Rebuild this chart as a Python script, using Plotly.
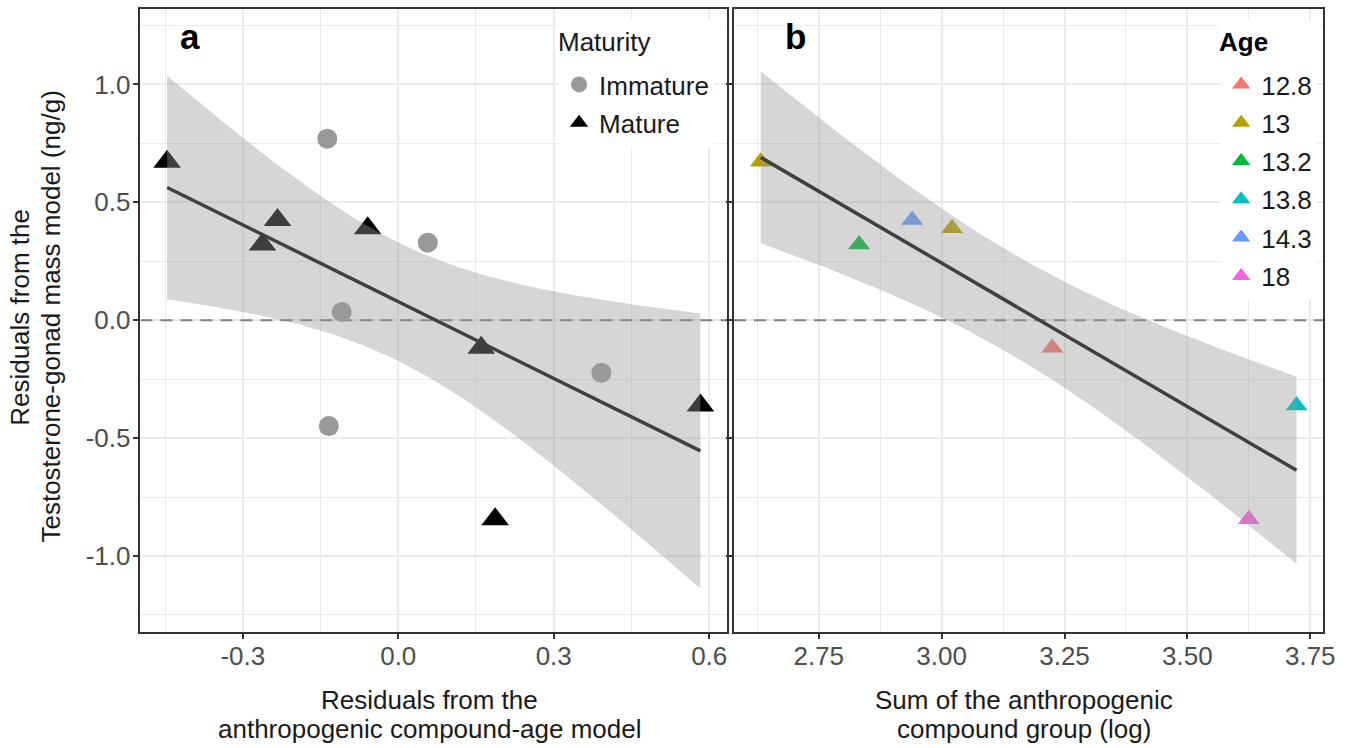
import numpy as np
import plotly.graph_objects as go

W, H = 1366, 748

# ---------------- data ----------------
# Panel a: residuals (all fish)
imm_x = [-0.137, -0.109, 0.057, -0.134, 0.392]
imm_y = [0.770, 0.035, 0.329, -0.449, -0.223]
mat_x = [-0.446, -0.262, -0.233, -0.059, 0.160, 0.187, 0.583]
mat_y = [0.672, 0.321, 0.425, 0.390, -0.117, -0.844, -0.362]

# Panel b: mature fish, sum of anthropogenic compounds (log)
sum_log = [2.632, 2.832, 2.940, 3.021, 3.225, 3.625, 3.722]
sum_y = [0.672, 0.321, 0.425, 0.390, -0.117, -0.844, -0.362]
age = ["13", "13.2", "14.3", "13", "12.8", "18", "13.8"]
age_levels = ["12.8", "13", "13.2", "13.8", "14.3", "18"]
age_colors = ["#F8766D", "#B79F00", "#00BA38", "#00BFC4", "#619CFF", "#F564E3"]

y_limits = [-1.2, 1.2]
y_ticks = [-1.0, -0.5, 0.0, 0.5, 1.0]
y_ticktext = ["-1.0", "-0.5", "0.0", "0.5", "1.0"]
y_minor = [-1.25, -0.75, -0.25, 0.25, 0.75, 1.25]
xa_ticks = [-0.3, 0.0, 0.3, 0.6]
xa_ticktext = ["-0.3", "0.0", "0.3", "0.6"]
xa_minor = [-0.45, -0.15, 0.15, 0.45]
xb_ticks = [2.75, 3.00, 3.25, 3.50, 3.75]
xb_ticktext = ["2.75", "3.00", "3.25", "3.50", "3.75"]
xb_minor = [2.625, 2.875, 3.125, 3.375, 3.625]

# ---------------- helpers ----------------
def tcrit(df):
    try:
        from scipy import stats
        return float(stats.t.ppf(0.975, df))
    except Exception:
        table = {3: 3.182446, 4: 2.776445, 5: 2.570582, 6: 2.446912, 7: 2.364624,
                 8: 2.306004, 9: 2.262157, 10: 2.228139, 11: 2.200985, 12: 2.178813}
        return table[df]


def lm_band(x, y, n=80):
    x = np.asarray(x, float)
    y = np.asarray(y, float)
    N = len(x)
    b, a = np.polyfit(x, y, 1)
    res = y - (a + b * x)
    s = np.sqrt(np.sum(res ** 2) / (N - 2))
    xs = np.linspace(x.min(), x.max(), n)
    fit = a + b * xs
    se = s * np.sqrt(1.0 / N + (xs - x.mean()) ** 2 / np.sum((x - x.mean()) ** 2))
    t = tcrit(N - 2)
    return xs, fit, fit - t * se, fit + t * se


def expand(vals, mult=0.05):
    lo, hi = min(vals), max(vals)
    d = (hi - lo) * mult
    return [lo - d, hi + d]


def px(x):
    return x / W


def py(y):
    return 1 - y / H


FONT = "Liberation Sans, Arial, Helvetica, sans-serif"
FS = 26
RIBBON = "rgba(153,153,153,0.4)"
LINEC = "#404040"
GRID = "#ebebeb"
FRAME = "#333333"
TXT = "#1a1a1a"

xa_range = expand(imm_x + mat_x)
xb_range = expand(sum_log)
y_range = expand(y_limits)

fig = go.Figure()

# zero reference lines
fig.add_trace(go.Scatter(x=xa_range, y=[0, 0], mode="lines", xaxis="x", yaxis="y",
                         line=dict(color="#808080", width=2, dash="12px,8px"),
                         showlegend=False, hoverinfo="skip"))
fig.add_trace(go.Scatter(x=xb_range, y=[0, 0], mode="lines", xaxis="x2", yaxis="y2",
                         line=dict(color="#808080", width=2, dash="12px,8px"),
                         showlegend=False, hoverinfo="skip"))

# panel a points
fig.add_trace(go.Scatter(x=imm_x, y=imm_y, mode="markers", name="Immature",
                         xaxis="x", yaxis="y", legend="legend", legendgroup="imm",
                         marker=dict(symbol="circle", size=20, color="#999999")))
fig.add_trace(go.Scatter(x=mat_x, y=mat_y, mode="markers", name="Mature",
                         xaxis="x", yaxis="y", legend="legend", legendgroup="mat",
                         marker=dict(symbol="triangle-up", size=24, color="#000000")))

# panel b points
for lev, col in zip(age_levels, age_colors):
    xs_ = [x for x, a in zip(sum_log, age) if a == lev]
    ys_ = [y for y, a in zip(sum_y, age) if a == lev]
    fig.add_trace(go.Scatter(x=xs_, y=ys_, mode="markers", name=lev,
                             xaxis="x2", yaxis="y2", legend="legend2", legendgroup="age" + lev,
                             marker=dict(symbol="triangle-up", size=19, color=col)))

# smooths (ribbon over points, line over ribbon)
for (xx, yy, xax, yax) in [(imm_x + mat_x, imm_y + mat_y, "x", "y"),
                           (sum_log, sum_y, "x2", "y2")]:
    xs, fit, lo, hi = lm_band(xx, yy)
    fig.add_trace(go.Scatter(x=np.concatenate([xs, xs[::-1]]),
                             y=np.concatenate([hi, lo[::-1]]),
                             fill="toself", fillcolor=RIBBON, mode="lines",
                             line=dict(width=0, color="rgba(0,0,0,0)"),
                             xaxis=xax, yaxis=yax, showlegend=False, hoverinfo="skip"))
    fig.add_trace(go.Scatter(x=xs, y=fit, mode="lines",
                             line=dict(color=LINEC, width=3.5),
                             xaxis=xax, yaxis=yax, showlegend=False, hoverinfo="skip"))

axis_common = dict(showline=True, mirror=True, linecolor=FRAME, linewidth=1.5,
                   ticks="outside", ticklen=6, tickwidth=1.5, tickcolor=FRAME,
                   showgrid=True, gridcolor=GRID, gridwidth=2, zeroline=False,
                   tickfont=dict(family=FONT, size=FS, color="#4d4d4d"))

xd_a = [px(141.7), px(733.5)]
xd_b = [px(740.5), px(1335)]
yd = [py(631.5), py(9)]

legend_common = dict(xanchor="left", yanchor="top", bgcolor="white", borderwidth=0,
                     tracegroupgap=1.5, font=dict(family=FONT, size=FS, color=TXT))

fig.update_layout(
    width=W, height=H,
    margin=dict(l=0, r=0, t=0, b=0),
    paper_bgcolor="white", plot_bgcolor="white",
    font=dict(family=FONT, color=TXT),
    xaxis=dict(domain=xd_a, range=xa_range, anchor="y", tickmode="array",
               tickvals=xa_ticks, ticktext=xa_ticktext, ticklabelstandoff=-5,
               minor=dict(tickmode="array", tickvals=xa_minor, showgrid=True,
                          gridcolor=GRID, gridwidth=1, ticks=""),
               **axis_common),
    yaxis=dict(domain=yd, range=y_range, anchor="x", tickmode="array",
               tickvals=y_ticks, ticktext=y_ticktext, ticklabelstandoff=-3,
               minor=dict(tickmode="array", tickvals=y_minor, showgrid=True,
                          gridcolor=GRID, gridwidth=1, ticks=""),
               **axis_common),
    xaxis2=dict(domain=xd_b, range=xb_range, anchor="y2", tickmode="array",
                tickvals=xb_ticks, ticktext=xb_ticktext, ticklabelstandoff=-5,
                minor=dict(tickmode="array", tickvals=xb_minor, showgrid=True,
                           gridcolor=GRID, gridwidth=1, ticks=""),
                **axis_common),
    yaxis2=dict(domain=yd, range=y_range, anchor="x2", tickmode="array",
                tickvals=y_ticks, ticktext=y_ticktext, showticklabels=False,
                minor=dict(tickmode="array", tickvals=y_minor, showgrid=True,
                           gridcolor=GRID, gridwidth=1, ticks=""),
                **axis_common),
    legend=dict(x=px(564), y=py(61), **legend_common),
    legend2=dict(x=px(1232), y=py(61), **legend_common),
)

ann = []
# legend titles (white boxes continue the legend background upward)
ann.append(dict(text="Maturity", x=px(562), y=py(19), xref="paper", yref="paper",
                xanchor="left", yanchor="top", align="left", valign="middle",
                width=165, height=44, bgcolor="white", borderpad=0, showarrow=False,
                font=dict(family=FONT, size=FS, color=TXT)))
ann.append(dict(text="<b>Age</b>", x=px(1229), y=py(19), xref="paper", yref="paper",
                xanchor="left", yanchor="top", align="left", valign="middle",
                width=100, height=44, bgcolor="white", borderpad=0, showarrow=False,
                font=dict(family=FONT, size=FS, color="#000000")))
# panel tags
ann.append(dict(text="<b>a</b>", x=px(180), y=py(37), xref="paper", yref="paper",
                xanchor="left", yanchor="middle", showarrow=False,
                font=dict(family=FONT, size=35, color="#000000")))
ann.append(dict(text="<b>b</b>", x=px(790), y=py(37), xref="paper", yref="paper",
                xanchor="left", yanchor="middle", showarrow=False,
                font=dict(family=FONT, size=35, color="#000000")))
# x titles
for cx, lines in [(433.5, ["Residuals from the", "anthropogenic compound-age model"]),
                  (1033, ["Sum of the anthropogenic", "compound group (log)"])]:
    for cy, t in zip([700, 729], lines):
        ann.append(dict(text=t, x=px(cx), y=py(cy), xref="paper", yref="paper",
                        xanchor="center", yanchor="middle", showarrow=False,
                        font=dict(family=FONT, size=FS, color=TXT)))
# y title
for cx, t in zip([20, 51], ["Residuals from the", "Testosterone-gonad mass model (ng/g)"]):
    ann.append(dict(text=t, x=px(cx), y=py(317), xref="paper", yref="paper",
                    xanchor="center", yanchor="middle", showarrow=False, textangle=-90,
                    font=dict(family=FONT, size=FS, color=TXT)))
fig.update_layout(annotations=ann)

fig.write_html("out.html")
